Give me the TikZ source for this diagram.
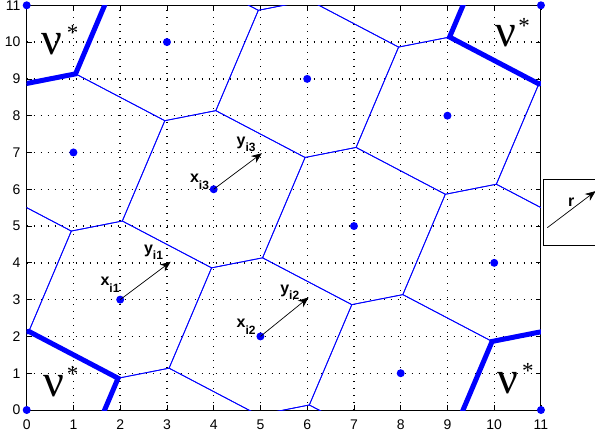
\documentclass[tikz,border=0pt]{standalone}
\usepackage{fontspec}
\setmainfont{Liberation Sans}
\newfontfamily\nufont{Liberation Serif}
\usetikzlibrary{arrows.meta}
\definecolor{mblue}{RGB}{0,0,255}
\newcommand\sublbl[2]{\bfseries\fontsize{16}{16}\selectfont #1\raisebox{-6.5pt}{\fontsize{12}{12}\selectfont #2}}
\begin{document}
\begin{tikzpicture}[x=46.75pt,y=36.79pt,
 vor/.style={mblue, line width=0.8pt},
 vorthick/.style={mblue, line width=5pt},
 gridline/.style={draw=black, line width=1.4pt, dash pattern=on 1.4pt off 5.6pt},
 pt/.style={circle, fill=mblue, inner sep=0pt, minimum size=8pt},
 vec/.style={-{Stealth[length=10.5pt,width=8.5pt]}, line width=0.7pt, black},
 lbl/.style={inner sep=0pt},
 ticklbl/.style={font=\fontsize{14}{14}\selectfont, inner sep=0pt},
 nulbl/.style={font=\nufont\fontsize{46}{46}\selectfont, inner sep=0pt, anchor=base},
 star/.style={font=\nufont\fontsize{23}{23}\selectfont, inner sep=0pt, anchor=north}]
\useasboundingbox (-0.571,-0.761) rectangle (12.156,11.144);
% grid
\foreach \k in {1,...,10} {
  \path[gridline] (\k,0) -- (\k,11);
  \path[gridline] (0,\k) -- (11,\k);
}
% axes box and ticks
\draw[black, line width=1pt] (0,0) rectangle (11,11);
\foreach \k in {0,...,11} {
  \draw[black, line width=0.7pt] (\k,0) -- ++(0pt,5pt);
  \draw[black, line width=0.7pt] (\k,11) -- ++(0pt,-5pt);
  \draw[black, line width=0.7pt] (0,\k) -- ++(5pt,0pt);
  \draw[black, line width=0.7pt] (11,\k) -- ++(-5pt,0pt);
  \node[ticklbl, anchor=east] at (-0.128,\k) {\k};
  \node[ticklbl, anchor=north] at (\k,-0.253) {\k};
}
% Voronoi cells
\begin{scope}
\clip (0,0) rectangle (11,11);
\foreach \a in {-3,...,4}{\foreach \b in {-1,...,5}{
  \draw[vor, shift={({3*\a+2*\b},{-\a+3*\b})}] (1.9545,0.8636) -- (0.0455,2.1364) -- (-1.0455,1.8636) -- (-1.9545,-0.8636) -- (-0.0455,-2.1364) -- (1.0455,-1.8636) -- cycle;
}}
\foreach \p in {(0,0),(11,0),(0,11),(11,11)} {
  \draw[vorthick, shift={\p}] (1.9545,0.8636) -- (0.0455,2.1364) -- (-1.0455,1.8636) -- (-1.9545,-0.8636) -- (-0.0455,-2.1364) -- (1.0455,-1.8636) -- cycle;
}
\end{scope}
% lattice points
\foreach \n/\px/\py in {c1/0/0, c2/11/0, c3/0/11, c4/11/11, x1/2/3, x2/5/2, q1/8/1, q2/1/7, x3/4/6, q3/7/5, q4/10/4, q5/3/10, q6/6/9, q7/9/8} {
  \node[pt] (\n) at (\px,\py) {};
}
% vectors
\coordinate (t1) at (3.08,4.03);
\coordinate (t2) at (6.03,3.06);
\coordinate (t3) at (5.03,6.98);
\draw[vec] (x1.center) -- (t1);
\draw[vec] (x2.center) -- (t2);
\draw[vec] (x3.center) -- (t3);
\node[lbl] (lx1) at (1.782,3.406) {\sublbl{x}{i1}};
\node[lbl] (ly1) at (2.712,4.289) {\sublbl{y}{i1}};
\node[lbl] (lx2) at (4.695,2.264) {\sublbl{x}{i2}};
\node[lbl] (ly2) at (5.626,3.202) {\sublbl{y}{i2}};
\node[lbl] (lx3) at (3.696,6.206) {\sublbl{x}{i3}};
\node[lbl] (ly3) at (4.695,7.225) {\sublbl{y}{i3}};
% nu* labels
\node[nulbl] (n1) at (0.541,9.676) {ν};
\node[star] (s1) at (0.98,10.465) {*};
\node[nulbl] (n2) at (10.25,9.875) {ν};
\node[star] (s2) at (10.64,10.647) {*};
\node[nulbl] (n3) at (0.573,0.38) {ν};
\node[star] (s3) at (0.98,1.177) {*};
\node[nulbl] (n4) at (10.29,0.454) {ν};
\node[star] (s4) at (10.72,1.269) {*};
% r box
\draw[black, line width=0.8pt] (11.05,4.466) rectangle (12.5,6.279);
\coordinate (rs) at (11.136,4.955);
\coordinate (rt) at (12.17,5.95);
\draw[vec] (rs) -- (rt);
\node[lbl, font=\bfseries\fontsize{16}{16}\selectfont] (rl) at (11.65,5.64) {r};
\end{tikzpicture}
\end{document}
